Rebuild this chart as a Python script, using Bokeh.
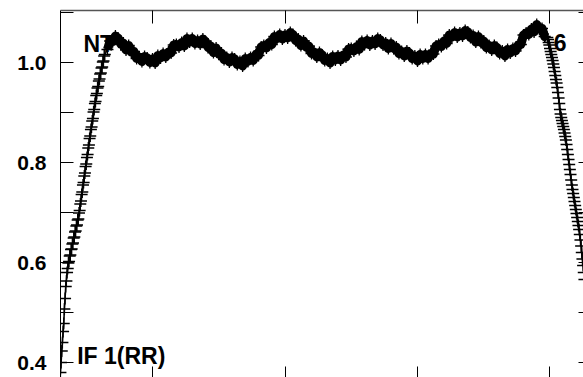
from bokeh.plotting import figure
from bokeh.models import Range1d, LinearAxis, FixedTicker, NumeralTickFormatter, Label, ColumnDataSource
from bokeh.embed import file_html
from bokeh.resources import INLINE

# ---- data ----
# rising band edge, one value per channel (channels 60..128)
left_edge_amp = [
    0.36, 0.38, 0.40, 0.423, 0.44, 0.462, 0.478, 0.507, 0.528, 0.552,
    0.563, 0.580, 0.588, 0.599, 0.602, 0.613, 0.615, 0.626, 0.627, 0.637,
    0.639, 0.649, 0.651, 0.661, 0.663, 0.673, 0.675, 0.685, 0.687, 0.699,
    0.704, 0.717, 0.723, 0.736, 0.741, 0.755, 0.760, 0.773, 0.779, 0.792,
    0.797, 0.810, 0.816, 0.829, 0.835, 0.848, 0.853, 0.866, 0.871, 0.883,
    0.888, 0.901, 0.906, 0.918, 0.922, 0.934, 0.938, 0.949, 0.952, 0.963,
    0.967, 0.977, 0.979, 0.989, 0.991, 1.001, 1.003, 1.013, 1.016,
]
# flat passband, every 4th channel (channels 132..796)
band_amp = [
    1.026, 1.043, 1.042, 1.053, 1.049, 1.037, 1.039, 1.025, 1.034, 1.021,
    1.022, 1.008, 1.011, 1.002, 1.012, 1.009, 1.000, 1.007, 0.999, 1.014,
    1.009, 1.018, 1.011, 1.021, 1.019, 1.035, 1.036, 1.031, 1.040, 1.033,
    1.048, 1.041, 1.048, 1.038, 1.044, 1.037, 1.047, 1.042, 1.030, 1.033,
    1.020, 1.029, 1.017, 1.019, 1.006, 1.010, 1.001, 1.010, 1.007, 0.996,
    1.002, 0.993, 1.008, 1.002, 1.010, 1.004, 1.016, 1.014, 1.031, 1.034,
    1.029, 1.040, 1.036, 1.052, 1.048, 1.056, 1.047, 1.055, 1.049, 1.060,
    1.056, 1.044, 1.047, 1.034, 1.043, 1.031, 1.033, 1.018, 1.021, 1.011,
    1.020, 1.015, 1.004, 1.008, 0.999, 1.012, 1.005, 1.013, 1.005, 1.015,
    1.011, 1.027, 1.028, 1.023, 1.032, 1.026, 1.042, 1.036, 1.044, 1.035,
    1.043, 1.037, 1.048, 1.045, 1.035, 1.039, 1.028, 1.038, 1.028, 1.031,
    1.018, 1.022, 1.013, 1.023, 1.019, 1.008, 1.013, 1.003, 1.016, 1.008,
    1.016, 1.008, 1.018, 1.017, 1.033, 1.036, 1.032, 1.043, 1.038, 1.055,
    1.051, 1.060, 1.051, 1.059, 1.053, 1.064, 1.061, 1.050, 1.054, 1.041,
    1.052, 1.040, 1.043, 1.030, 1.034, 1.025, 1.034, 1.030, 1.018, 1.023,
    1.013, 1.026, 1.019, 1.028, 1.023, 1.035, 1.036, 1.055, 1.059, 1.056,
    1.067, 1.061, 1.076, 1.067, 1.068, 1.052, 1.050,
]
# falling band edge, one value per channel (channels 797..852)
right_edge_amp = [
    1.046, 1.040, 1.035, 1.028, 1.022, 1.016, 1.010, 1.004, 0.997, 0.990,
    0.982, 0.974, 0.966, 0.959, 0.950, 0.940, 0.929, 0.918, 0.906, 0.897,
    0.890, 0.884, 0.878, 0.872, 0.866, 0.859, 0.852, 0.845, 0.836, 0.826,
    0.816, 0.806, 0.796, 0.786, 0.776, 0.765, 0.755, 0.746, 0.738, 0.730,
    0.722, 0.714, 0.706, 0.698, 0.690, 0.682, 0.674, 0.666, 0.656, 0.645,
    0.633, 0.620, 0.607, 0.594, 0.580, 0.566,
]
left_edge_ch = list(range(60, 60 + len(left_edge_amp)))
band_ch = list(range(132, 132 + 4 * len(band_amp), 4))
right_edge_ch = list(range(797, 797 + len(right_edge_amp)))
channels = left_edge_ch + band_ch + right_edge_ch
amplitude = left_edge_amp + band_amp + right_edge_amp

x_ticks = [200, 400, 600, 800]
y_major_ticks = [0.4, 0.6, 0.8, 1.0]
y_minor_ticks = [0.3, 0.5, 0.7, 0.9, 1.1]
y_all_ticks = [0.4, 0.5, 0.6, 0.7, 0.8, 0.9, 1.0, 1.1]
label_top_left = "NT"
label_top_right = "6"
label_bottom_left = "IF 1(RR)"

FONT = "Liberation Sans"

p = figure(width=583, height=377, output_backend="svg", toolbar_location=None,
           x_range=Range1d(61.1, 850.6), y_range=Range1d(0.37, 1.104),
           min_border_left=60, min_border_top=10, min_border_right=0, min_border_bottom=0,
           x_axis_location=None, y_axis_location=None)
p.outline_line_color = None
p.xgrid.visible = False
p.ygrid.visible = False
p.background_fill_color = "white"
p.border_fill_color = "white"

# left axis (labelled)
la = LinearAxis(ticker=FixedTicker(ticks=y_major_ticks, minor_ticks=y_minor_ticks),
                formatter=NumeralTickFormatter(format="0.0"))
la.axis_line_color = "black"
la.axis_line_width = 1
la.major_tick_in = 13
la.major_tick_out = 0
la.minor_tick_in = 13
la.minor_tick_out = 0
la.major_tick_line_color = "black"
la.minor_tick_line_color = "black"
la.major_label_standoff = 14
la.major_label_text_font = FONT
la.major_label_text_font_style = "bold"
la.major_label_text_font_size = "21px"
la.major_label_text_color = "black"
p.add_layout(la, "left")

def tick_only_axis(ticks, tick_len, line_color):
    ax = LinearAxis(ticker=FixedTicker(ticks=[], minor_ticks=ticks))
    ax.axis_line_color = line_color
    ax.minor_tick_in = tick_len
    ax.minor_tick_out = 0
    ax.minor_tick_line_color = "black"
    ax.major_tick_line_color = None
    ax.major_label_standoff = 0
    return ax

ra = tick_only_axis(y_all_ticks, 5, None)
p.add_layout(ra, "right")

ta = tick_only_axis(x_ticks, 13, "#555555")
ta.axis_line_width = 1.5
p.add_layout(ta, "above")

ba = tick_only_axis(x_ticks, 11, None)
p.add_layout(ba, "below")

# labels (under the data)
for txt, xv, yv, align in [(label_top_left, 95.8, 1.038, "left"),
                           (label_top_right, 825.0, 1.040, "right"),
                           (label_bottom_left, 86.3, 0.414, "left")]:
    lab = Label(x=xv, y=yv, text=txt, text_font=FONT, text_font_style="bold",
                text_font_size="23px", text_color="black", text_align=align,
                text_baseline="alphabetic", level="underlay")
    p.add_layout(lab)

src = ColumnDataSource(dict(x=channels, y=amplitude))
band_src = ColumnDataSource(dict(x=band_ch, y=band_amp))
# dense overlapping passband samples render as a solid band
p.line("x", "y", source=band_src, line_color="black", line_width=9, line_join="round")
p.line("x", "y", source=src, line_color="black", line_width=1.6)
p.scatter("x", "y", source=src, marker="cross", size=12, line_color="black", line_width=1.3)

open("out.html", "w").write(file_html(p, INLINE))
